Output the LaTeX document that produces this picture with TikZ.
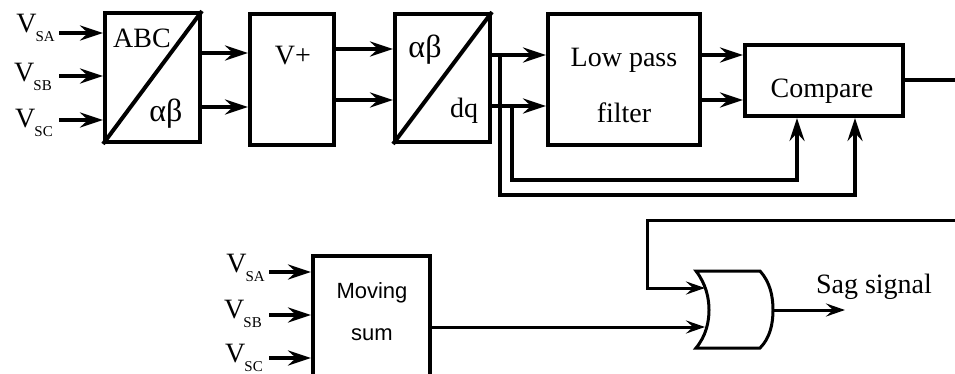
\documentclass[tikz,border=0pt]{standalone}
\usepackage{fontspec}
\setmainfont{Liberation Serif}
\newfontfamily\msans{Liberation Sans}
\usetikzlibrary{arrows.meta}
\newcommand\vsub[1]{V\kern-1pt\raisebox{-9pt}{\fontsize{15}{15}\selectfont #1}}
\tikzset{
  box/.style={draw, line width=4pt, inner sep=0pt},
  lbl/.style={font=\fontsize{28}{28}\selectfont, inner sep=0pt},
  grk/.style={font=\fontsize{32}{32}\selectfont, inner sep=0pt},
  arr/.style={line width=4pt, -{Stealth[length=23pt,width=15pt,inset=8pt]}},
  arrs/.style={line width=3pt, -{Stealth[length=19pt,width=13pt,inset=7pt]}},
  wire/.style={line width=4pt},
}
\begin{document}
\begin{tikzpicture}[x=1pt,y=-1pt, line join=miter]
\useasboundingbox (0,0) rectangle (955,374);
\clip (0,0) rectangle (955,374);
\fill[white] (0,0) rectangle (955,374);
% boxes
\node[box, minimum width=95pt, minimum height=129pt] (abc) at (152.5,77.5) {};
\node[box, minimum width=84pt, minimum height=131pt] (vp) at (292,79.5) {};
\node[box, minimum width=95pt, minimum height=128pt] (dq) at (442.5,78) {};
\node[box, minimum width=152pt, minimum height=131pt] (lpf) at (624,79.5) {};
\node[box, minimum width=158pt, minimum height=71pt] (cmp) at (824,80.5) {};
\node[box, minimum width=117pt, minimum height=150pt] (ms) at (371.5,331) {};
\draw[wire] (abc.south west) -- (abc.north east);
\draw[wire] (dq.south west) -- (dq.north east);
% texts
\node[lbl, anchor=base] (tabc) at (142,48) {ABC};
\node[grk, anchor=base] (tab1) at (166,122) {αβ};
\node[lbl, anchor=base] (tvp) at (293,65) {V+};
\node[grk, anchor=base] (tab2) at (425,58) {αβ};
\node[lbl, anchor=base] (tdq) at (464,118) {dq};
\node[lbl, anchor=base] (tlp) at (624,67) {Low pass};
\node[lbl, anchor=base] (tfi) at (624,123) {filter};
\node[lbl, anchor=base] (tcm) at (822,98) {Compare};
\node[lbl, anchor=base] (tsag) at (874,293) {Sag signal};
\node[font=\msans\fontsize{22}{22}\selectfont, anchor=base, inner sep=0pt] (tmv) at (372,298) {Moving};
\node[font=\msans\fontsize{22}{22}\selectfont, anchor=base, inner sep=0pt] (tsum) at (372,340) {sum};
% input labels
\node[lbl, anchor=base east] (va1) at (55,33) {\vsub{SA}};
\node[lbl, anchor=base east] (vb1) at (52,82) {\vsub{SB}};
\node[lbl, anchor=base east] (vc1) at (53,128) {\vsub{SC}};
\node[lbl, anchor=base east] (va2) at (265,272) {\vsub{SA}};
\node[lbl, anchor=base east] (vb2) at (262,318) {\vsub{SB}};
\node[lbl, anchor=base east] (vc2) at (263,362) {\vsub{SC}};
% input arrows
\coordinate (a1s) at (59,33);
\coordinate (b1s) at (59,76);
\coordinate (c1s) at (59,120);
\coordinate (a2s) at (269,272);
\coordinate (b2s) at (269,315);
\coordinate (c2s) at (269,358);
\draw[arr] (a1s) -- (abc.west |- a1s);
\draw[arr] (b1s) -- (abc.west |- b1s);
\draw[arr] (c1s) -- (abc.west |- c1s);
\draw[arr] (a2s) -- (ms.west |- a2s);
\draw[arr] (b2s) -- (ms.west |- b2s);
\draw[arr] (c2s) -- (ms.west |- c2s);
% chain
\draw[arr] (abc.east |- 0,53) -- (vp.west |- 0,53);
\draw[arr] (abc.east |- 0,107) -- (vp.west |- 0,107);
\draw[arr] (vp.east |- 0,49) -- (dq.west |- 0,49);
\draw[arr] (vp.east |- 0,100) -- (dq.west |- 0,100);
\draw[arr] (dq.east |- 0,55) -- (lpf.west |- 0,55);
\draw[arr] (dq.east |- 0,106) -- (lpf.west |- 0,106);
\draw[arr] (lpf.east |- 0,55) -- (cmp.west |- 0,55);
\draw[arr] (lpf.east |- 0,100) -- (cmp.west |- 0,100);
% feedback
\coordinate (b1) at (500,55);
\coordinate (b2) at (512,106);
\coordinate (f1) at (855,195);
\coordinate (f2) at (797,180);
\draw[arr] (b1) |- (f1) -- (f1 |- cmp.south);
\draw[arr] (b2) |- (f2) -- (f2 |- cmp.south);
% compare output
\coordinate (outR) at (960,80);
\draw[wire] (cmp.east |- outR) -- (outR);
% OR gate
\draw[line width=3pt] (696,271) coordinate (gtl) -- (760,271) .. controls (770,282) and (773,296) .. (773,310) coordinate (gOut)
  .. controls (773,324) and (770,338) .. (760,348) -- (696,348)
  .. controls (706,336) and (709,322) .. (709,310) .. controls (709,298) and (706,284) .. (696,271) -- cycle;
\coordinate (gIn1) at (705,288);
\coordinate (gIn2) at (705,327);
\coordinate (rin) at (960,220);
\coordinate (k1) at (647,220);
\draw[arrs] (rin) -- (k1) |- (gIn1);
\draw[arrs] (ms.east |- gIn2) -- (gIn2);
\coordinate (sagEnd) at (845,310);
\draw[arrs] (gOut) -- (sagEnd);
\end{tikzpicture}
\end{document}
